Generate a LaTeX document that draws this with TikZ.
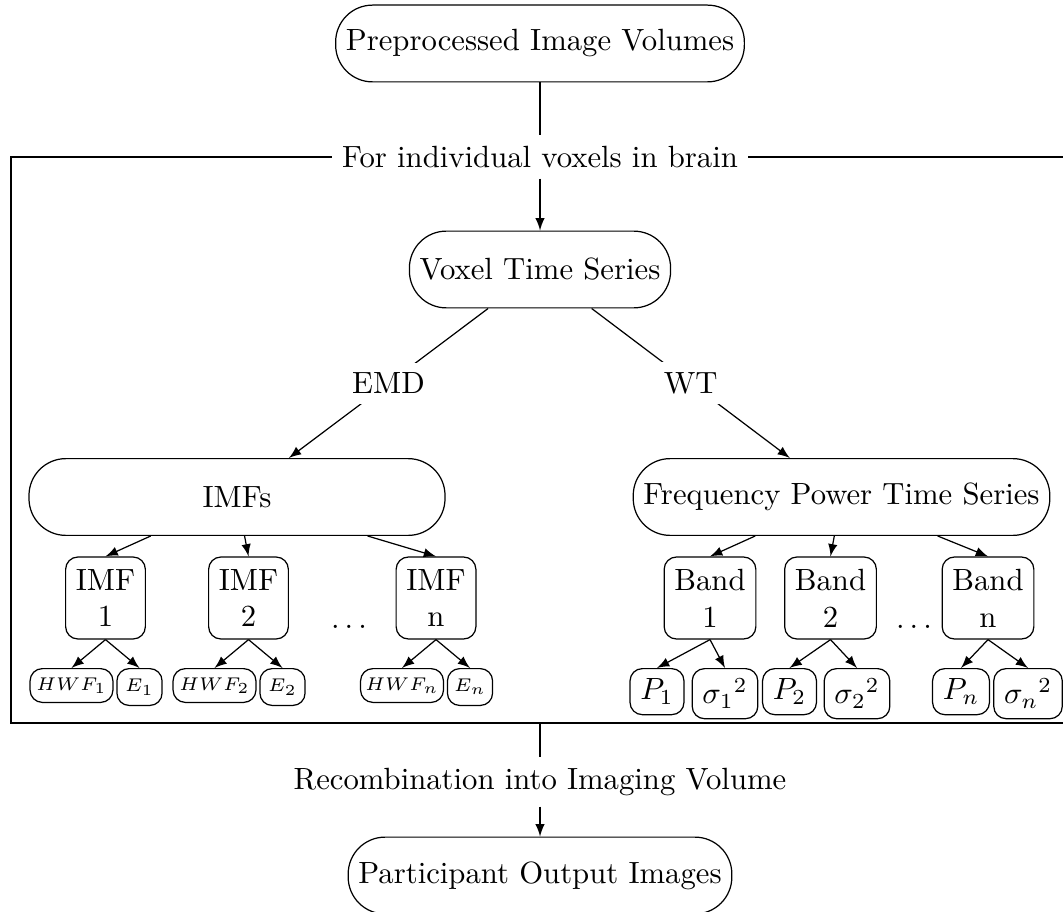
\documentclass[tikz,border=0pt]{standalone}
\tikzset{
  pill/.style={draw, rounded corners=12pt, minimum height=25pt},
  stagebox/.style={draw, rounded corners=4pt, align=center, minimum height=26.7pt},
  leafbox/.style={draw, rounded corners=4pt, anchor=north},
  tinyleaf/.style={leafbox, font=\fontsize{6}{7}\selectfont, inner sep=1pt},
  conn/.style={-latex},
}
\begin{document}
\begin{tikzpicture}[x=0.3257pt,y=-0.3257pt]
    \useasboundingbox (0,0) rectangle (1063,911);
    % frame for the per-voxel steps
    \draw (11,157) rectangle (1069,723);
    \coordinate (framebot) at (540,723);

    \node[pill] (prep) at (540,43.5) {Preprocessed Image Volumes};
    \node[fill=white] (forvox) at (540,157) {For individual voxels in brain};
    \node[pill] (voxel) at (540,269.5) {Voxel Time Series};
    \node[pill,minimum width=135.5pt] (imfs) at (237,497) {IMFs};
    \node[pill] (freq) at (841.5,497) {Frequency Power Time Series};

    \draw (prep) -- (forvox);
    \draw[conn] (forvox) -- (voxel);
    \draw[conn] (voxel) -- node[fill=white] (emd) {EMD} (imfs);
    \draw[conn] (voxel) -- node[fill=white] (wt) {WT} (freq);

    % EMD branch
    \foreach \x/\k in {105.5/1, 248.5/2, 436/n} {
      \node[stagebox] (imf\k) at (\x,598) {IMF\\\k};
      \draw[conn] (imfs) -- (imf\k.north);
      \node[tinyleaf,minimum width=27pt,minimum height=11pt] (hwf\k) at (\x-34,668) {$HWF_{\k}$};
      \node[tinyleaf,minimum width=14.7pt,minimum height=12pt] (e\k) at (\x+34,668) {$E_{\k}$};
      \draw[conn] (imf\k.south) -- (hwf\k.north);
      \draw[conn] (imf\k.south) -- (e\k.north);
    }
    \node (imfdots) at (349,627) {$\dots$};

    % WT branch
    \foreach \x/\k/\p/\s in {710/1/657/725, 830.5/2/789.5/857, 988/n/961/1028} {
      \node[stagebox] (band\k) at (\x,598) {Band\\\k};
      \draw[conn] (freq) -- (band\k.north);
      \node[leafbox] (pw\k) at (\p,668) {$P_{\k}$};
      \node[leafbox] (var\k) at (\s,668) {${\sigma_{\k}}^2$};
      \draw[conn] (band\k.south) -- (pw\k.north);
      \draw[conn] (band\k.south) -- (var\k.north);
    }
    \node (banddots) at (914,627) {$\dots$};

    \node (recomb) at (540,782) {Recombination into Imaging Volume};
    \node[pill] (output) at (540,875.5) {Participant Output Images};
    \draw (framebot) -- (recomb);
    \draw[conn] (recomb) -- (output);
\end{tikzpicture}
\end{document}
